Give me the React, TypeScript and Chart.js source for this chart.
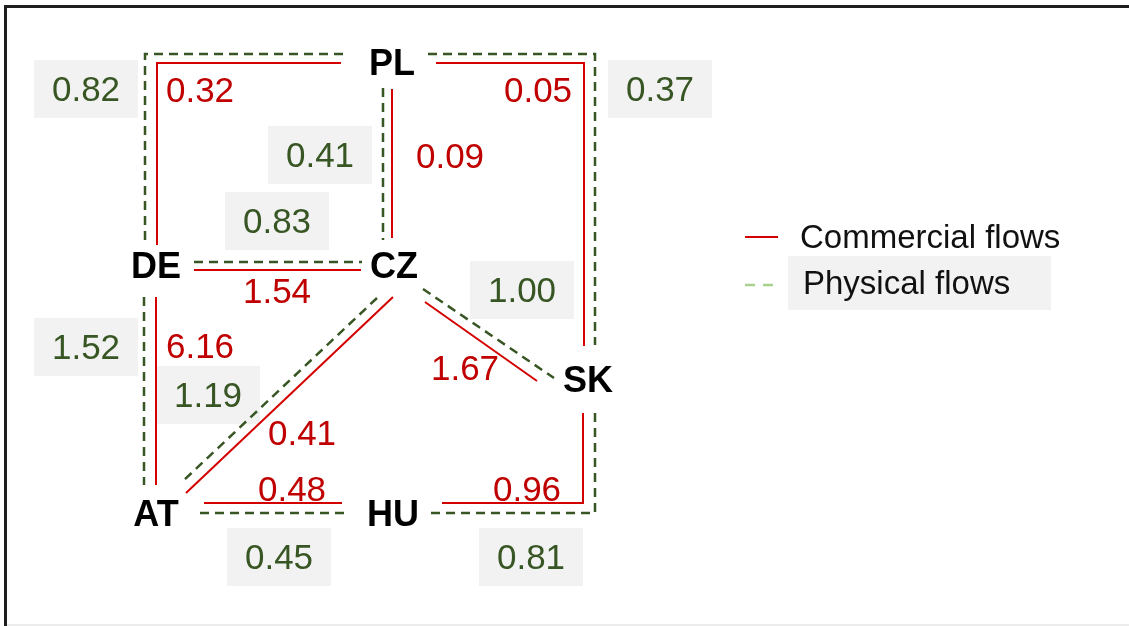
import React, { useEffect, useRef } from 'react';
import { Chart, registerables } from 'chart.js';

Chart.register(...registerables);

// ---- Data ----
const seriesNames = ['Commercial flows', 'Physical flows'];

const nodeNames = ['PL', 'DE', 'CZ', 'SK', 'AT', 'HU'];
const nodeX = [392, 156, 394, 588, 156, 393];
const nodeY = [63, 266, 266, 380, 514, 514];

const edgeNames = ['PL-DE', 'PL-CZ', 'PL-SK', 'DE-CZ', 'DE-AT', 'CZ-AT', 'CZ-SK', 'AT-HU', 'SK-HU'];
const commercialValues = [0.32, 0.09, 0.05, 1.54, 6.16, 0.41, 1.67, 0.48, 0.96];
const physicalValues = [0.82, 0.41, 0.37, 0.83, 1.52, 1.19, 1.0, 0.45, 0.81];

// routes of each flow line in diagram units
const commercialRoutes: number[][][] = [
  [[341, 63], [157, 63], [157, 245]],
  [[392, 89], [392, 238]],
  [[436, 63], [584, 63], [584, 346]],
  [[194, 270], [361, 270]],
  [[156, 297], [156, 485]],
  [[393, 297], [186, 493]],
  [[425, 302], [537, 381]],
  [[204, 503], [342, 503]],
  [[583, 413], [583, 503], [442, 503]],
];
const physicalRoutes: number[][][] = [
  [[343, 54], [145, 54], [145, 245]],
  [[383, 88], [383, 240]],
  [[428, 54], [595, 54], [595, 345]],
  [[194, 262], [362, 262]],
  [[144, 297], [144, 485]],
  [[377, 298], [182, 482]],
  [[423, 289], [554, 378]],
  [[200, 513], [345, 513]],
  [[595, 413], [595, 513], [430, 513]],
];
const commercialLabelPos: number[][] = [
  [200, 90], [450, 156], [538, 90], [277, 291], [200, 346], [302, 433], [465, 368], [292, 489], [527, 489],
];
const physicalLabelPos: number[][] = [
  [86, 89], [320, 155], [660, 89], [277, 221], [86, 347], [208, 395], [522, 290], [279, 557], [531, 557],
];

// ---- Styles ----
const RED_LINE = '#d40000';
const RED_TEXT = '#c00000';
const GREEN = '#375623';
const LIGHT_GREEN = '#a9d18e';
const BOX = '#f2f2f2';
const FONT = '"Liberation Sans", Arial, sans-serif';
const TEXT_DY = 2;

const diagramPlugin = {
  id: 'diagram',
  beforeDatasetsDraw(chart: any) {
    const ctx = chart.ctx;
    const xs = chart.scales.x;
    const ys = chart.scales.y;
    ctx.save();
    ctx.fillStyle = BOX;
    physicalLabelPos.forEach(([lx, ly]) => {
      const cx = xs.getPixelForValue(lx);
      const cy = ys.getPixelForValue(ly);
      ctx.fillRect(cx - 52, cy - 29, 104, 58);
    });
    ctx.restore();
  },
  afterDatasetsDraw(chart: any) {
    const ctx = chart.ctx;
    const xs = chart.scales.x;
    const ys = chart.scales.y;
    ctx.save();
    ctx.textAlign = 'center';
    ctx.textBaseline = 'middle';

    // node labels
    ctx.font = `bold 36px ${FONT}`;
    ctx.fillStyle = '#000';
    nodeNames.forEach((n, i) => {
      ctx.fillText(n, xs.getPixelForValue(nodeX[i]), ys.getPixelForValue(nodeY[i]) + TEXT_DY);
    });

    // values
    ctx.font = `35px ${FONT}`;
    ctx.fillStyle = GREEN;
    physicalValues.forEach((v, i) => {
      const [lx, ly] = physicalLabelPos[i];
      ctx.fillText(v.toFixed(2), xs.getPixelForValue(lx), ys.getPixelForValue(ly) + TEXT_DY);
    });
    ctx.fillStyle = RED_TEXT;
    commercialValues.forEach((v, i) => {
      const [lx, ly] = commercialLabelPos[i];
      ctx.fillText(v.toFixed(2), xs.getPixelForValue(lx), ys.getPixelForValue(ly) + TEXT_DY);
    });

    // legend
    const legX = xs.getPixelForValue(745);
    const legY1 = ys.getPixelForValue(237);
    const legY2 = ys.getPixelForValue(285);
    ctx.fillStyle = BOX;
    ctx.fillRect(legX + 43, legY2 - 29, 263, 54);
    ctx.lineWidth = 2;
    ctx.strokeStyle = RED_LINE;
    ctx.beginPath();
    ctx.moveTo(legX, legY1);
    ctx.lineTo(legX + 33, legY1);
    ctx.stroke();
    ctx.strokeStyle = LIGHT_GREEN;
    ctx.lineWidth = 2.5;
    ctx.setLineDash([10, 8]);
    ctx.beginPath();
    ctx.moveTo(legX, legY2);
    ctx.lineTo(legX + 33, legY2);
    ctx.stroke();
    ctx.setLineDash([]);
    ctx.font = `33px ${FONT}`;
    ctx.fillStyle = '#111';
    ctx.textAlign = 'left';
    ctx.fillText(seriesNames[0], legX + 55, legY1 + 2);
    ctx.fillText(seriesNames[1], legX + 58, legY2);
    ctx.restore();
  },
};

export default function App() {
  const canvasRef = useRef<HTMLCanvasElement | null>(null);

  useEffect(() => {
    if (!canvasRef.current) return;
    const datasets: any[] = [];
    physicalRoutes.forEach((route, i) => {
      datasets.push({
        label: `${seriesNames[1]} ${edgeNames[i]}`,
        data: route.map(([x, y]) => ({ x, y })),
        showLine: true,
        borderColor: GREEN,
        borderWidth: 2.5,
        borderDash: [9, 6],
        pointRadius: 0,
        fill: false,
        tension: 0,
      });
    });
    commercialRoutes.forEach((route, i) => {
      datasets.push({
        label: `${seriesNames[0]} ${edgeNames[i]}`,
        data: route.map(([x, y]) => ({ x, y })),
        showLine: true,
        borderColor: RED_LINE,
        borderWidth: 2,
        pointRadius: 0,
        fill: false,
        tension: 0,
      });
    });
    const chart = new Chart(canvasRef.current, {
      type: 'scatter',
      data: { datasets },
      options: {
        animation: false,
        responsive: false,
        devicePixelRatio: 1,
        layout: { padding: 0 },
        scales: {
          x: { type: 'linear', min: 0, max: 1129, display: false },
          y: { type: 'linear', min: 0, max: 626, reverse: true, display: false },
        },
        plugins: { legend: { display: false }, tooltip: { enabled: false } },
        events: [],
      },
      plugins: [diagramPlugin],
    } as any);
    return () => chart.destroy();
  }, []);

  return (
    <div style={{ position: 'fixed', left: 0, top: 0, width: 1129, height: 626, background: '#fff', overflow: 'hidden' }}>
      <div
        style={{
          position: 'absolute',
          left: 4,
          top: 5,
          width: 1300,
          height: 800,
          borderLeft: '3px solid #1e1e1e',
          borderTop: '3px solid #1e1e1e',
          boxSizing: 'border-box',
        }}
      />
      <div style={{ position: 'absolute', left: 7, top: 624, width: 1122, height: 2, background: '#ececec' }} />
      <canvas ref={canvasRef} width={1129} height={626} style={{ position: 'absolute', left: 0, top: 0 }} />
    </div>
  );
}
